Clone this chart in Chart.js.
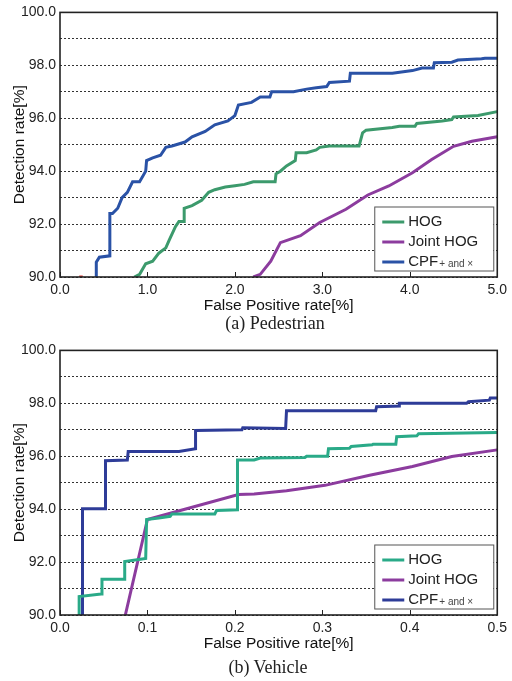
<!DOCTYPE html>
<html>
<head>
<meta charset="utf-8">
<script src="https://cdn.jsdelivr.net/npm/chart.js@4.4.1/dist/chart.umd.min.js"></script>
<style>
  body { margin: 0; background: #fff; width: 512px; height: 681px; position: relative; overflow: hidden; }
  canvas { position: absolute; left: 0; }
  .cap { position: absolute; width: 200px; text-align: center; font-family: "Liberation Serif", "Times New Roman", serif; font-size: 18px; color: #222; line-height: 20px; }
</style>
</head>
<body>
<canvas id="pedChart" width="512" height="315" style="top:0"></canvas>
<div class="cap" style="left:175px; top:313px">(a) Pedestrian</div>
<canvas id="vehChart" width="512" height="315" style="top:338px"></canvas>
<div class="cap" style="left:168px; top:657px">(b) Vehicle</div>
<script>
// legend labels
const seriesNames = ['HOG', 'Joint HOG', 'CPF'];

// (a) Pedestrian  [false positive %, detection %]
const pedHog = [[0.85,90],[0.91,90.1],[0.98,90.5],[1.06,90.6],[1.13,90.9],[1.21,91.1],[1.25,91.4],[1.32,91.9],[1.36,92.1],[1.42,92.1],[1.42,92.6],[1.51,92.7],[1.62,92.9],[1.7,93.2],[1.77,93.3],[1.89,93.4],[2.0,93.45],[2.11,93.5],[2.21,93.6],[2.46,93.6],[2.47,93.9],[2.52,94.0],[2.59,94.2],[2.69,94.4],[2.7,94.7],[2.82,94.7],[2.93,94.8],[2.97,94.9],[3.08,94.95],[3.42,94.95],[3.44,95.2],[3.46,95.45],[3.5,95.55],[3.8,95.65],[3.88,95.7],[4.06,95.7],[4.08,95.8],[4.37,95.9],[4.48,95.95],[4.5,96.05],[4.78,96.1],[5.0,96.25]];
const pedJoint = [[2.21,90],[2.29,90.1],[2.41,90.6],[2.52,91.3],[2.75,91.56],[2.97,92.06],[3.27,92.56],[3.52,93.1],[3.76,93.44],[4.03,93.94],[4.25,94.44],[4.5,94.94],[4.71,95.13],[5.0,95.3]];
const pedCpf = [[0.415,90],[0.415,90.56],[0.45,90.75],[0.57,90.8],[0.57,92.4],[0.6,92.4],[0.66,92.6],[0.71,93.0],[0.77,93.2],[0.83,93.6],[0.91,93.6],[0.98,94.0],[0.99,94.4],[1.06,94.5],[1.15,94.6],[1.21,94.9],[1.28,94.95],[1.43,95.1],[1.51,95.3],[1.66,95.5],[1.77,95.75],[1.92,95.9],[2.0,96.1],[2.04,96.5],[2.19,96.6],[2.29,96.8],[2.4,96.8],[2.42,97.0],[2.67,97.0],[2.82,97.1],[2.93,97.15],[3.05,97.2],[3.08,97.35],[3.31,97.4],[3.32,97.7],[3.8,97.7],[4.03,97.8],[4.14,97.9],[4.27,97.9],[4.28,98.1],[4.48,98.12],[4.55,98.2],[4.82,98.25],[4.86,98.27],[5.0,98.27]];
const pedRed = [[0.22,90],[0.26,90]];

// (b) Vehicle
const vehHog = [[0.0219,90],[0.0219,90.7],[0.047,90.79],[0.048,91.35],[0.074,91.35],[0.074,92.02],[0.098,92.14],[0.099,93.61],[0.113,93.67],[0.126,93.73],[0.128,93.82],[0.177,93.82],[0.179,93.95],[0.203,93.98],[0.203,95.86],[0.222,95.86],[0.229,95.93],[0.28,95.95],[0.282,96.0],[0.306,96.0],[0.307,96.28],[0.331,96.3],[0.333,96.37],[0.357,96.43],[0.358,96.45],[0.384,96.45],[0.385,96.74],[0.408,96.77],[0.41,96.85],[0.5,96.9]];
const vehJoint = [[0.0747,90],[0.1,93.61],[0.204,94.55],[0.222,94.57],[0.259,94.7],[0.303,94.9],[0.354,95.28],[0.403,95.61],[0.448,95.99],[0.5,96.24]];
const vehCpf = [[0.0257,90],[0.0257,94.02],[0.052,94.02],[0.052,95.83],[0.077,95.86],[0.078,96.18],[0.136,96.18],[0.155,96.28],[0.155,96.97],[0.208,97.0],[0.209,97.08],[0.258,97.05],[0.259,97.72],[0.361,97.72],[0.362,97.87],[0.388,97.9],[0.388,98.0],[0.465,98.0],[0.467,98.06],[0.491,98.12],[0.492,98.2],[0.5,98.2]];

const toPts = arr => arr.map(p => ({x: p[0], y: p[1]}));

function line(label, pts, color) {
    return {
        label: label,
        data: toPts(pts),
        borderColor: color,
        backgroundColor: color,
        borderWidth: 3,
        pointRadius: 0,
        tension: 0,
        fill: false
    };
}

// box, inward x ticks and legend
const frame = {
    id: 'frame',
    afterDraw(chart) {
        const ctx = chart.ctx;
        const a = chart.chartArea;
        ctx.save();
        ctx.strokeStyle = '#222';
        ctx.lineWidth = 1;
        chart.scales.x.ticks.forEach((t, i) => {
            const px = Math.round(chart.scales.x.getPixelForTick(i)) + 0.5;
            ctx.beginPath();
            ctx.moveTo(px, a.bottom);
            ctx.lineTo(px, a.bottom - 5);
            ctx.stroke();
        });
        ctx.lineWidth = 1.6;
        ctx.strokeRect(a.left, a.top, a.right - a.left, a.bottom - a.top);

        // legend
        const w = 119, h = 64;
        const lx = a.right - 4 - w;
        const ly = a.bottom - 6.5 - h;
        ctx.fillStyle = '#fff';
        ctx.fillRect(lx, ly, w, h);
        ctx.strokeStyle = '#555';
        ctx.lineWidth = 1;
        ctx.strokeRect(lx + 0.5, ly + 0.5, w, h);
        ctx.textBaseline = 'middle';
        for (let i = 0; i < 3; i++) {
            const ds = chart.data.datasets[i];
            const ry = ly + 15.5 + i * 20;
            ctx.strokeStyle = ds.borderColor;
            ctx.lineWidth = 3;
            ctx.beginPath();
            ctx.moveTo(lx + 8, ry);
            ctx.lineTo(lx + 30, ry);
            ctx.stroke();
            ctx.fillStyle = '#222';
            ctx.font = '15px "Liberation Sans", Arial, sans-serif';
            ctx.fillText(ds.label, lx + 34, ry);
            if (i === 2) {
                const tw = ctx.measureText(ds.label).width;
                ctx.font = '10px "Liberation Sans", Arial, sans-serif';
                ctx.fillStyle = '#444';
                ctx.fillText('+ and \u00d7', lx + 35 + tw, ry + 2);
            }
        }
        ctx.restore();
    }
};

function makeChart(id, sets, xMax, xStep) {
    return new Chart(document.getElementById(id), {
        type: 'line',
        data: { datasets: sets },
        options: {
            responsive: false,
            animation: false,
            devicePixelRatio: 1,
            layout: { padding: { top: 10, right: 10, left: 0, bottom: 0 } },
            plugins: { legend: { display: false }, tooltip: { enabled: false } },
            scales: {
                x: {
                    type: 'linear',
                    min: 0,
                    max: xMax,
                    afterFit: s => { s.height = 38; },
                    grid: { display: false, drawTicks: false },
                    border: { display: false },
                    ticks: {
                        stepSize: xStep,
                        padding: 5,
                        color: '#222',
                        font: { family: '"Liberation Sans", Arial, sans-serif', size: 14 },
                        callback: v => (Math.round(v * 10) / 10).toFixed(1)
                    },
                    title: {
                        display: true,
                        text: 'False Positive rate[%]',
                        color: '#111',
                        padding: { top: 0, bottom: 0 },
                        font: { family: '"Liberation Sans", Arial, sans-serif', size: 15.5 }
                    }
                },
                y: {
                    min: 90,
                    max: 100,
                    afterFit: s => { s.width = 60; },
                    border: { display: false, dash: [2, 2] },
                    grid: {
                        color: '#333',
                        lineWidth: 1,
                        drawTicks: false
                    },
                    ticks: {
                        stepSize: 1,
                        padding: 4,
                        color: '#222',
                        font: { family: '"Liberation Sans", Arial, sans-serif', size: 14 },
                        callback: v => (Math.round(v) % 2 === 0 ? v.toFixed(1) : '')
                    },
                    title: {
                        display: true,
                        text: 'Detection rate[%]',
                        color: '#111',
                        padding: { top: 10, bottom: 0 },
                        font: { family: '"Liberation Sans", Arial, sans-serif', size: 15.5 }
                    }
                }
            }
        },
        plugins: [frame]
    });
}

const pedSets = [
    line(seriesNames[0], pedHog, '#3c9a6c'),
    line(seriesNames[1], pedJoint, '#8c3c9e'),
    line(seriesNames[2], pedCpf, '#2a52a6'),
    line('', pedRed, '#e0302a')
];
const vehSets = [
    line(seriesNames[0], vehHog, '#2aaa88'),
    line(seriesNames[1], vehJoint, '#8c3c9e'),
    line(seriesNames[2], vehCpf, '#2e3c98')
];

makeChart('pedChart', pedSets, 5, 1);
makeChart('vehChart', vehSets, 0.5, 0.1);
</script>
</body>
</html>
